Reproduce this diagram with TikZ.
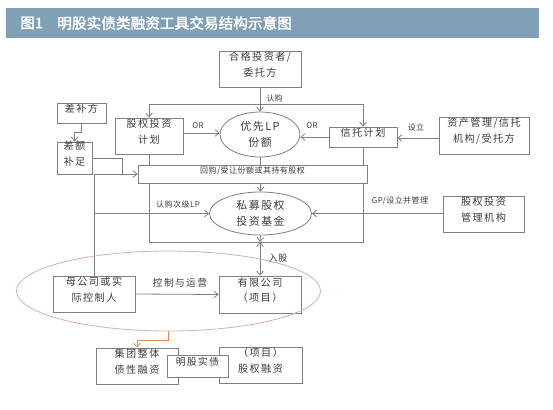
\documentclass[tikz,border=0pt]{standalone}
\usepackage{fontspec}
\setmainfont{Noto Sans CJK SC}
\newfontfamily\titlefont[FakeBold=2]{Noto Sans CJK SC}
\newfontfamily\spaced[LetterSpace=14]{Noto Sans CJK SC}
\newfontfamily\lspaced[LetterSpace=6]{Noto Sans CJK SC}
\usetikzlibrary{shapes.geometric,arrows.meta,fit}
\pgfdeclarelayer{bg}
\pgfsetlayers{bg,main}
\definecolor{barc}{RGB}{127,160,181}
\definecolor{lnc}{RGB}{128,128,128}
\definecolor{txc}{RGB}{60,60,60}
\definecolor{pinkc}{RGB}{215,172,182}
\definecolor{orngc}{RGB}{228,140,80}
\begin{document}
\begin{tikzpicture}[x=0.75pt,y=-0.75pt,
  box/.style={draw=lnc, line width=0.6pt, fill=white, inner sep=0pt, align=center, text=txc, font=\spaced\fontsize{7.6}{11.5}\selectfont},
  oval/.style={ellipse, draw=lnc, line width=0.6pt, fill=white, inner sep=0pt, align=center, text=txc, font=\spaced\fontsize{8.2}{12.5}\selectfont},
  conn/.style={draw=lnc, line width=0.6pt},
  arr/.style={conn, -{Straight Barb[length=3pt,width=5pt]}},
  lbl/.style={text=txc, font=\lspaced\fontsize{6}{8}\selectfont, inner sep=0pt},
  midlbl/.style={text=txc, font=\spaced\fontsize{7.3}{10}\selectfont, inner sep=0pt},
  ttl/.style={text=white, font=\titlefont\fontsize{11}{13}\selectfont, inner sep=0pt, anchor=west},
]
\useasboundingbox (0,0) rectangle (553,410);
% title bar
\node[fill=barc, inner sep=0pt, fit={(6,8)(539,38)}] (titlebar) {};
\node[ttl] (fig) at (20,23) {图1};
\node[ttl] (title) at (57,23) {明股实债类融资工具交易结构示意图};

% boxes
\node[box, fit={(219,51)(301,87)}] (hege) {合格投资者/\\委托方};
\node[box, fit={(57,103)(106,123)}] (chabu) {差补方};
\node[box, fit={(57,142)(92,174)}] (cezb) {差额\\补足};
\node[box, fit={(115,118)(183,154)}] (gqjh) {股权投资\\计划};
\node[oval, minimum width=60pt, minimum height=33.75pt] (yxlp) at (260,134.5) {优先LP\\份额};
\node[box, fit={(329,127)(397,147)}] (xtjh) {信托计划};
\node[box, fit={(439,117)(529,154)}] (zcgl) {资产管理/信托\\机构/受托方};
\node[box, fit={(138,165)(367,183)}, font=\lspaced\fontsize{6}{8}\selectfont] (hg) {回购/受让份额或其持有股权};
\node[oval, minimum width=76.5pt, minimum height=32.25pt] (smjj) at (260.5,213.5) {私募股权\\投资基金};
\node[box, fit={(443,196)(524,232)}] (gqgl) {股权投资\\管理机构};
\node[box, fit={(53,276)(135,312)}] (mgs) {母公司或实\\际控制人};
\node[box, fit={(219,276)(301,313)}] (yxgs) {有限公司\\（项目）};
\node[box, fit={(96,348)(178,384)}] (jt) {集团整体\\债性融资};
\node[box, fit={(219,347)(302,383)}] (gqrz) {（项目）\\股权融资};
\node[box, fit={(167,355)(228,377)}, font=\spaced\fontsize{7.3}{10}\selectfont] (mgsz) {明股实债};
\node[ellipse, draw=pinkc, line width=0.6pt, inner sep=0pt, minimum width=228pt, minimum height=60pt] (bigov) at (168.5,291) {};

% junction coordinates
\coordinate (tm) at (260,104);
\coordinate (fbl) at (149,242);
\coordinate (fbm) at (260,242);
\coordinate (fbr) at (363,242);
\coordinate (jn) at (122,174);
\coordinate (j2) at (94,213.5);

% labels
\node[lbl, anchor=west] (lrg) at (266,98) {认购};
\node[lbl] (lor1) at (198,126) {OR};
\node[lbl] (lor2) at (312,126) {OR};
\node[lbl] (lsl) at (416,127) {设立};
\node[lbl] (lcj) at (178,204) {认购次级LP};
\node[lbl] (lgp) at (400,201) {GP/设立并管理};
\node[lbl, font=\lspaced\fontsize{6.8}{9}\selectfont] (lrgu) at (278,258) {入股};
\node[midlbl] (lkz) at (180,283) {控制与运营};

\begin{pgfonlayer}{bg}
\draw[arr] (hege.south) -- (yxlp.north);
\draw[arr] (tm) -| (gqjh.north);
\draw[arr] (tm) -| (xtjh.north);
\draw[conn] (gqjh.south) -- (gqjh.south |- fbl) -- (fbr) -- (xtjh.south -| fbr);
\draw[arr] (gqjh.east |- 0,133) -- (yxlp.west |- 0,133);
\draw[arr] (xtjh.west |- 0,137) -- (yxlp.east |- 0,137);
\draw[arr] (zcgl.west |- 0,138) -- (xtjh.east |- 0,138);
\draw[conn] (yxlp.south) -- (yxlp.south |- hg.north);
\draw[arr] (hg.south -| smjj.south) -- (smjj.north);
\draw[arr] (smjj.south) -- (fbm);
\draw[conn, {Straight Barb[length=3pt,width=5pt]}-{Straight Barb[length=3pt,width=5pt]}] (fbm) -- (fbm |- yxgs.north);
\draw[arr] (gqgl.west |- smjj.east) -- (smjj.east);
\draw[arr] (chabu.south) -- ++(0,9) -| (cezb.north);
\draw[conn] (cezb.east) -| (jn);
\draw[arr] (jn) -- (hg.west |- jn);
\draw[conn] (mgs.north) |- (jn);
\draw[arr] (j2) -- (smjj.west);
\draw[arr] (mgs.east) -- (yxgs.west);
\draw[draw=orngc, line width=0.6pt, -{Straight Barb[length=3pt,width=5pt]}] (bigov.south) -- ++(0,9) -| (jt.north);
\end{pgfonlayer}
\end{tikzpicture}
\end{document}
